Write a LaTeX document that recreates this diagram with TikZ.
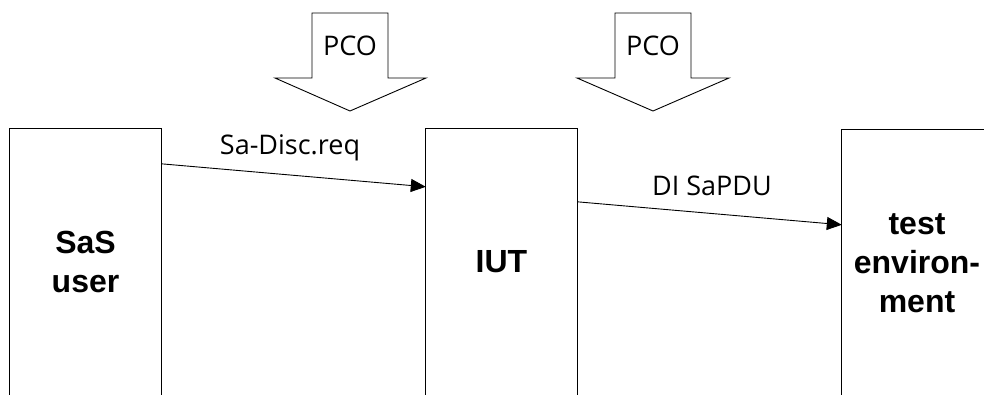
\documentclass[tikz,border=0pt]{standalone}
\usepackage{fontspec}
\setmainfont{Open Sans}
\newfontfamily\boxfont{Liberation Sans}
\usetikzlibrary{arrows.meta}
\begin{document}
\begin{tikzpicture}[x=1pt,y=-1pt,
  frame/.style={draw=black, line width=0.9pt, line join=miter},
  boxn/.style={inner sep=0pt, align=center, font=\boxfont\bfseries\fontsize{32}{39}\selectfont},
  conn/.style={line width=0.9pt, -{Triangle[length=15pt,width=13pt]}},
  lbl/.style={inner sep=0pt, font=\fontsize{27}{30}\selectfont}]
\useasboundingbox (0,0) rectangle (984,395);
% boxes (open at the bottom)
\node[boxn, minimum width=151pt, minimum height=266pt] (user) at (85.5,262) {SaS\\user};
\node[boxn, minimum width=151pt, minimum height=266pt] (iut) at (501.5,262) {IUT};
\node[boxn, minimum width=150pt, minimum height=266pt] (env) at (917,263) {test\\environ-\\ment};
\draw[frame] (user.south west) -- (user.north west) -- (user.north east) -- (user.south east);
\draw[frame] (iut.south west) -- (iut.north west) -- (iut.north east) -- (iut.south east);
\draw[frame] (env.south west) -- (env.north west) -- (env.north east);
% PCO block arrows
\draw[frame] (312,13) -- (388,13) -- (388,78) -- (426,78) -- (350,111) -- (275,78) -- (312,78) -- cycle;
\node[lbl] (pco1) at (350,46) {PCO};
\draw[frame] (615,13) -- (691,13) -- (691,78) -- (729,78) -- (653,111) -- (577,78) -- (615,78) -- cycle;
\node[lbl] (pco2) at (653,46) {PCO};
% connectors
\draw[conn] ([yshift=-35pt]user.north east) -- ([yshift=-58pt]iut.north west);
\node[lbl] (l1) at (290,148) {Sa-Disc.req};
\draw[conn] ([yshift=-73pt]iut.north east) -- ([yshift=-95pt]env.north west);
\node[lbl] (l2) at (712,186) {DI SaPDU};
\end{tikzpicture}
\end{document}
